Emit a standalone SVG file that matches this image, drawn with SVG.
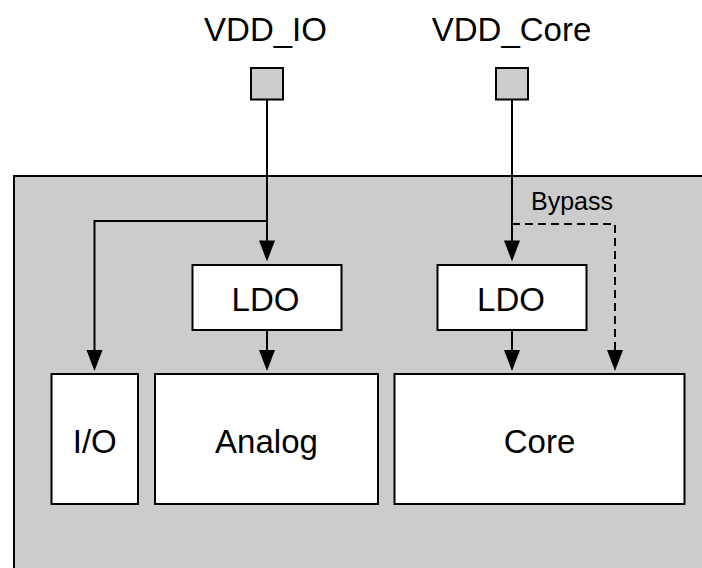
<svg xmlns="http://www.w3.org/2000/svg" width="702" height="568" viewBox="0 0 702 568">
  <style>
    .lbl { font-family: "Liberation Sans", Arial, Helvetica, sans-serif; fill: #000; }
    .big { font-size: 33px; text-anchor: middle; }
    .small { font-size: 25px; }
    .box { fill: #ffffff; stroke: #000; stroke-width: 2; }
    .pad { fill: #cccccc; stroke: #000; stroke-width: 2; }
    .chip { fill: #cccccc; stroke: #000; stroke-width: 2; }
    .wire { fill: none; stroke: #000; stroke-width: 2; }
    .dash { stroke-dasharray: 8 5; }
  </style>
  <defs>
    <marker id="arrow" markerUnits="userSpaceOnUse" markerWidth="21" markerHeight="17"
            refX="17" refY="8" orient="auto" overflow="visible">
      <path d="M0,0 L21,8 L0,16 z" fill="#000"/>
    </marker>
  </defs>

  <rect width="702" height="568" fill="#ffffff"/>

  <!-- chip outline -->
  <g id="chip">
    <rect class="chip" x="14" y="176" width="720" height="420"/>
  </g>

  <!-- supply pads -->
  <g id="pad-vdd-io">
    <text class="lbl big" x="265.5" y="40.5">VDD_IO</text>
    <rect class="pad" x="251" y="68" width="32" height="31.5"/>
  </g>
  <g id="pad-vdd-core">
    <text class="lbl big" x="511.5" y="40.5">VDD_Core</text>
    <rect class="pad" x="496" y="68" width="32" height="31.5"/>
  </g>

  <!-- regulators -->
  <g id="ldo-analog">
    <rect class="box" x="192.5" y="265" width="149" height="65"/>
    <text class="lbl big" x="265.5" y="310.5">LDO</text>
  </g>
  <g id="ldo-core">
    <rect class="box" x="437.5" y="265" width="149" height="65"/>
    <text class="lbl big" x="511" y="310.5">LDO</text>
  </g>

  <!-- power domains -->
  <g id="io">
    <rect class="box" x="51.5" y="374" width="86.5" height="130"/>
    <text class="lbl big" x="94.8" y="452.5">I/O</text>
  </g>
  <g id="analog">
    <rect class="box" x="155" y="374" width="223" height="130"/>
    <text class="lbl big" x="266.5" y="452.5">Analog</text>
  </g>
  <g id="core">
    <rect class="box" x="394.5" y="374" width="290" height="130"/>
    <text class="lbl big" x="539.5" y="452.5">Core</text>
  </g>

  <!-- connectors -->
  <g id="connectors">
    <path class="wire" d="M267,99.5 V257.5" marker-end="url(#arrow)"/>
    <path class="wire" d="M267,221 H94.5 V367" marker-end="url(#arrow)"/>
    <path class="wire" d="M267,330 V367" marker-end="url(#arrow)"/>
    <path class="wire" d="M512,99.5 V257.5" marker-end="url(#arrow)"/>
    <path class="wire" d="M512,330 V367" marker-end="url(#arrow)"/>
    <path class="wire dash" d="M512,224 H615 V367" marker-end="url(#arrow)"/>
    <text class="lbl small" x="531" y="209.5">Bypass</text>
  </g>
</svg>
